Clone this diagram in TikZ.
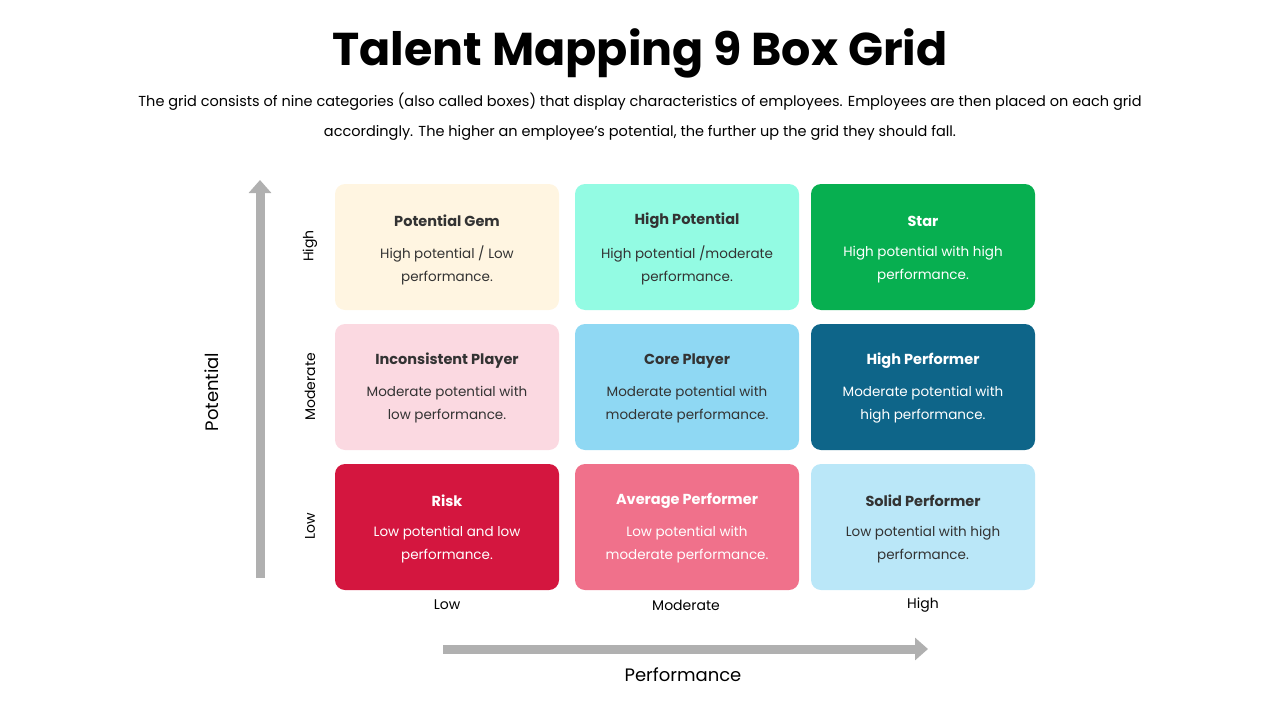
\documentclass[tikz,border=0pt]{standalone}
\usepackage{fontspec}
\setmainfont{Poppins}
\usetikzlibrary{arrows.meta}
\definecolor{gemc}{HTML}{FFF5E1}
\definecolor{hipc}{HTML}{93FBE3}
\definecolor{starc}{HTML}{07AF50}
\definecolor{incc}{HTML}{FBD9E1}
\definecolor{corec}{HTML}{8FD8F3}
\definecolor{hperc}{HTML}{0E6589}
\definecolor{riskc}{HTML}{D4163F}
\definecolor{avgc}{HTML}{F0718B}
\definecolor{solc}{HTML}{BAE7F8}
\definecolor{txtc}{HTML}{333333}
\definecolor{axisc}{HTML}{B0B0B0}
\tikzset{
  cell/.style={draw=none,rounded corners=10pt,minimum width=224pt,minimum height=126pt,inner sep=0pt},
  ttl/.style={font=\fontsize{14.5}{17}\selectfont\bfseries},
  body/.style={font=\fontsize{13.5}{23}\selectfont,align=center},
  axis/.style={draw=axisc,line width=9pt,-{Triangle[length=13pt,width=22pt]}},
  tick/.style={font=\fontsize{14}{16}\selectfont}
}
\newcommand{\cellbox}[6]{%
  \node[cell,fill=#2] (#1) at (#3) {};
  \node[ttl,text=#4] (#1t) at ([yshift=26pt]#1.center) {#5};
  \node[body,text=#4] (#1b) at ([yshift=-18pt]#1.center) {#6};
}
\begin{document}
\begin{tikzpicture}[x=1pt,y=-1pt]
\useasboundingbox (0,0) rectangle (1280,720);

\node[font=\fontsize{46}{50}\selectfont\bfseries] (title) at (640,53) {Talent Mapping 9 Box Grid};
\node[font=\fontsize{14.5}{30}\selectfont,align=center] (sub) at (640,117) {The grid consists of nine categories (also called boxes) that display characteristics of employees. Employees are then placed on each grid\\accordingly. The higher an employee's potential, the further up the grid they should fall.};

% top row
\cellbox{gem}{gemc}{447,247}{txtc}{Potential Gem}{High potential / Low\\performance.}
\cellbox{hip}{hipc}{687,247}{txtc}{High Potential}{High potential /moderate\\performance.}
\cellbox{star}{starc}{923,247}{white}{Star}{High potential with high\\performance.}
% middle row
\cellbox{inc}{incc}{447,387}{txtc}{Inconsistent Player}{Moderate potential with\\low performance.}
\cellbox{core}{corec}{687,387}{txtc}{Core Player}{Moderate potential with\\moderate performance.}
\cellbox{hper}{hperc}{923,387}{white}{High Performer}{Moderate potential with\\high performance.}
% bottom row
\cellbox{risk}{riskc}{447,527}{white}{Risk}{Low potential and low\\performance.}
\cellbox{avg}{avgc}{687,527}{white}{Average Performer}{Low potential with\\moderate performance.}
\cellbox{sol}{solc}{923,527}{txtc}{Solid Performer}{Low potential with high\\performance.}

% axes
\coordinate (ybot) at (260,578);
\coordinate (ytop) at (260,180);
\coordinate (xl) at (443,649);
\coordinate (xr) at (928,649);
\draw[axis] (ybot) -- (ytop);
\draw[axis] (xl) -- (xr);

\node[font=\fontsize{18}{20}\selectfont,rotate=90] (ylab) at (212,392) {Potential};
\node[font=\fontsize{18}{20}\selectfont] (xlab) at (683,675) {Performance};

\node[tick,rotate=90] (yhigh) at (310,246) {High};
\node[tick,rotate=90] (ymod) at (310,387) {Moderate};
\node[tick,rotate=90] (ylow) at (310,526) {Low};
\node[tick] (xlow) at (447,605) {Low};
\node[tick] (xmod) at (686,605) {Moderate};
\node[tick] (xhigh) at (923,605) {High};
\end{tikzpicture}
\end{document}
